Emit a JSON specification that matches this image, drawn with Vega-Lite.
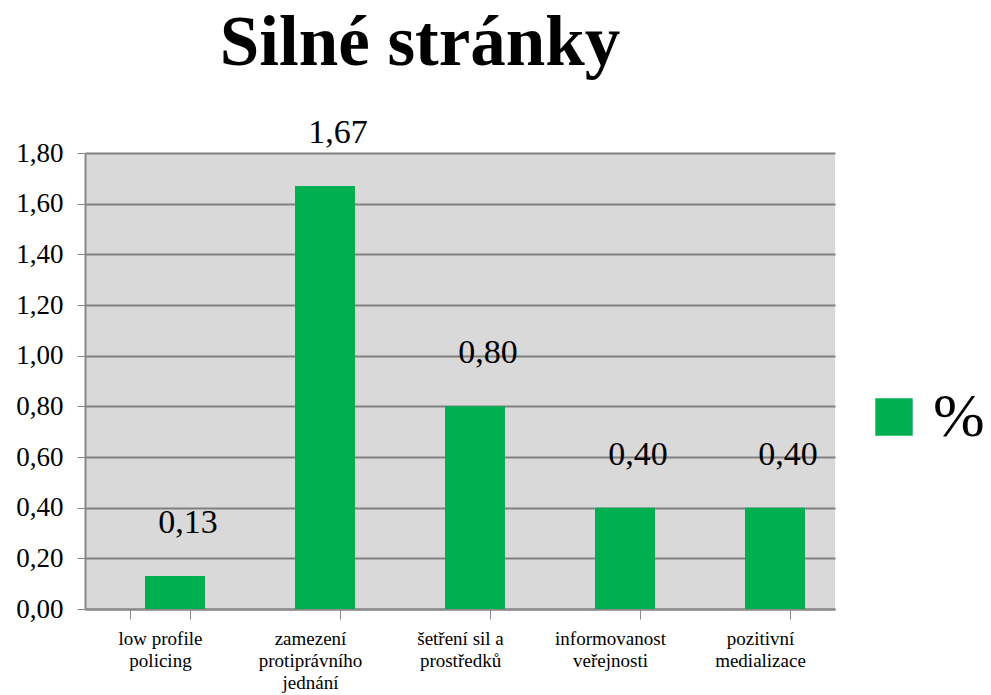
{
  "$schema": "https://vega.github.io/schema/vega-lite/v6.json",
  "width": 750,
  "height": 456,
  "autosize": "none",
  "padding": {"left": 85, "top": 153, "right": 156, "bottom": 86},
  "background": "white",
  "config": {
    "locale": {"number": {"decimal": ",", "thousands": " ", "grouping": [3], "currency": ["", " Kč"]}},
    "view": {"fill": "#d9d9d9", "stroke": null},
    "font": "Liberation Serif"
  },
  "title": {
    "text": "Silné stránky",
    "font": "Liberation Serif",
    "fontSize": 71,
    "fontWeight": "bold",
    "color": "#000000",
    "anchor": "middle",
    "dx": -40,
    "offset": 36
  },
  "data": {
    "values": [
      {"kategorie": "low profile policing", "serie": "%", "hodnota": 0.13},
      {"kategorie": "zamezení protiprávního jednání", "serie": "%", "hodnota": 1.67},
      {"kategorie": "šetření sil a prostředků", "serie": "%", "hodnota": 0.80},
      {"kategorie": "informovanost veřejnosti", "serie": "%", "hodnota": 0.40},
      {"kategorie": "pozitivní medializace", "serie": "%", "hodnota": 0.40}
    ]
  },
  "encoding": {
    "x": {
      "field": "kategorie",
      "type": "nominal",
      "sort": null,
      "scale": {"paddingInner": 0.6, "paddingOuter": 0.3},
      "axis": {
        "title": null,
        "labelAngle": 0,
        "labelFont": "Liberation Serif",
        "labelFontSize": 19,
        "labelColor": "#000000",
        "labelPadding": 10,
        "labelLineHeight": 22,
        "tickBand": "extent",
        "tickSize": 10,
        "tickColor": "#888888",
        "domainColor": "#888888",
        "domainWidth": 2,
        "labelExpr": "datum.label == '' ? '' : datum.value == 'low profile policing' ? ['low profile', 'policing'] : datum.value == 'zamezení protiprávního jednání' ? ['zamezení', 'protiprávního', 'jednání'] : datum.value == 'šetření sil a prostředků' ? ['šetření sil a', 'prostředků'] : datum.value == 'informovanost veřejnosti' ? ['informovanost', 'veřejnosti'] : ['pozitivní', 'medializace']"
      }
    },
    "y": {
      "field": "hodnota",
      "type": "quantitative",
      "scale": {"domain": [0, 1.8]},
      "axis": {
        "title": null,
        "values": [0, 0.2, 0.4, 0.6, 0.8, 1.0, 1.2, 1.4, 1.6, 1.8],
        "format": ".2f",
        "labelFont": "Liberation Serif",
        "labelFontSize": 27,
        "labelColor": "#000000",
        "labelPadding": 14,
        "tickSize": 8,
        "tickColor": "#888888",
        "domainColor": "#888888",
        "domainWidth": 2,
        "gridColor": "#808080",
        "gridWidth": 2
      }
    }
  },
  "layer": [
    {
      "mark": {"type": "bar", "color": "#00b050", "xOffset": 15},
      "encoding": {
        "color": {
          "field": "serie",
          "type": "nominal",
          "scale": {"range": ["#00b050"]},
          "legend": {
            "title": null,
            "orient": "none",
            "legendX": 778,
            "legendY": 233,
            "symbolType": "square",
            "symbolSize": 1400,
            "symbolStrokeWidth": 0,
            "labelFont": "Liberation Serif",
            "labelFontSize": 62,
            "labelColor": "#000000",
            "labelOffset": 8
          }
        }
      }
    },
    {
      "mark": {"type": "text", "font": "Liberation Serif", "fontSize": 34, "baseline": "bottom", "dy": -36, "dx": 28, "color": "#000000"},
      "encoding": {
        "text": {"field": "hodnota", "type": "quantitative", "format": ".2f"}
      }
    }
  ]
}
